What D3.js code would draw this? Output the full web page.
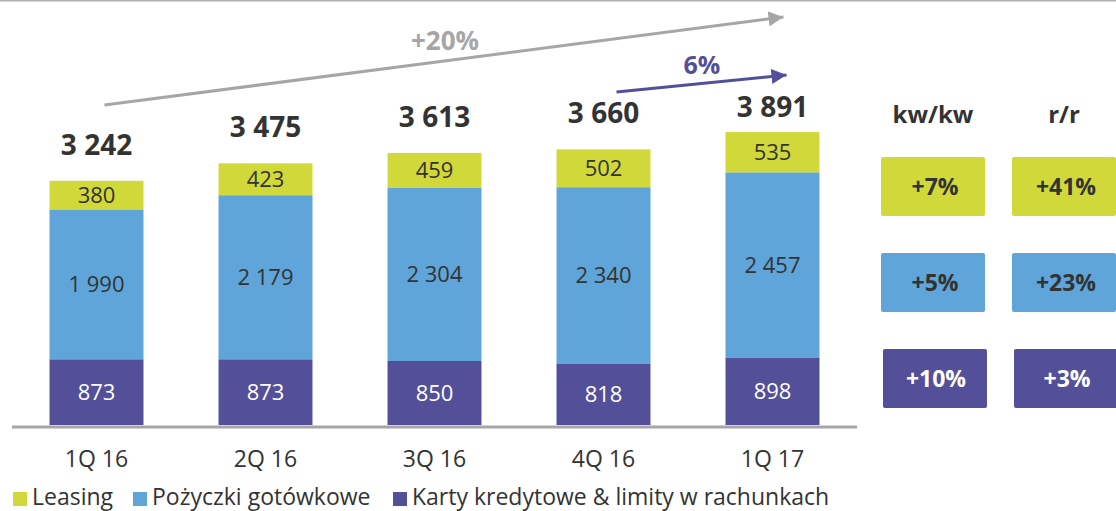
<!DOCTYPE html>
<html>
<head>
<meta charset="utf-8">
<script src="https://cdn.jsdelivr.net/npm/d3@7"></script>
<style>
  body { margin: 0; background: #fff; }
  svg { display: block; font-family: "Open Sans", "Noto Sans", sans-serif; }
</style>
</head>
<body>
<script>
// data
const quarters = ["1Q 16", "2Q 16", "3Q 16", "4Q 16", "1Q 17"];
const karty = [873, 873, 850, 818, 898];
const pozyczki = [1990, 2179, 2304, 2340, 2457];
const leasing = [380, 423, 459, 502, 535];
const totals = [3242, 3475, 3613, 3660, 3891];
const seriesNames = ["Leasing", "Pożyczki gotówkowe", "Karty kredytowe & limity w rachunkach"];
const qoq = ["+7%", "+5%", "+10%"];
const yoy = ["+41%", "+23%", "+3%"];
const growthAll = "+20%";
const growthLast = "6%";

const colors = { leasing: "#d1d93a", pozyczki: "#5fa5d9", karty: "#534f99" };

const W = 1116, H = 511;
const svg = d3.select("body").append("svg")
  .attr("width", W)
  .attr("height", H);

// top rule
svg.append("line")
  .attr("x1", 0).attr("x2", W).attr("y1", 0.5).attr("y2", 0.5)
  .attr("stroke", "#b0b0b0").attr("stroke-width", 2);

//Scales
const x = d3.scaleBand().domain(quarters).range([12, 857]).paddingInner(0.444).paddingOuter(0.222);
const y = d3.scaleLinear().domain([0, 3891]).range([425, 132]);

const rows = quarters.map((q, i) => ({ q, karty: karty[i], pozyczki: pozyczki[i], leasing: leasing[i], total: totals[i] }));
const keys = ["karty", "pozyczki", "leasing"];
const stack = d3.stack().keys(keys)(rows);

const fmt = v => d3.format(",")(v).replace(/,/g, " ");

const layers = svg.selectAll(".layer")
  .data(stack)
  .join("g")
  .attr("class", "layer")
  .attr("fill", d => colors[d.key]);

layers.selectAll("rect")
  .data(d => d)
  .join("rect")
  .attr("x", d => x(d.data.q))
  .attr("width", x.bandwidth())
  .attr("y", d => y(d[1]))
  .attr("height", d => y(d[0]) - y(d[1]));

// segment labels
stack.forEach(layer => {
  svg.append("g").selectAll("text")
    .data(layer)
    .join("text")
    .attr("x", d => x(d.data.q) + x.bandwidth() / 2)
    .attr("y", d => (y(d[0]) + y(d[1])) / 2)
    .attr("dy", "0.36em")
    .attr("text-anchor", "middle")
    .attr("font-size", 22)
    .attr("fill", layer.key === "karty" ? "#fff" : "#333")
    .text(d => fmt(d.data[layer.key]));
});

// totals (kept below the purple arrow)
svg.append("g").selectAll("text")
  .data(rows)
  .join("text")
  .attr("x", d => x(d.q) + x.bandwidth() / 2)
  .attr("y", d => Math.max(y(d.total) - 26, 117))
  .attr("text-anchor", "middle")
  .attr("font-size", 28)
  .attr("font-weight", "bold")
  .attr("fill", "#333")
  .text(d => fmt(d.total));

// axis
const xAxis = svg.append("g")
  .attr("transform", "translate(0,427)")
  .call(d3.axisBottom(x).tickSize(0).tickPadding(24));
xAxis.select(".domain").attr("stroke", "#a6a6a6").attr("stroke-width", 3)
  .attr("d", "M12,0H857");
xAxis.selectAll("text").attr("font-size", 23).attr("fill", "#333")
  .attr("font-family", "\"Open Sans\", \"Noto Sans\", sans-serif");

// arrows
const defs = svg.append("defs");
function marker(id, color) {
  defs.append("marker")
    .attr("id", id)
    .attr("viewBox", "0 0 10 10")
    .attr("refX", 10).attr("refY", 5)
    .attr("markerUnits", "userSpaceOnUse")
    .attr("markerWidth", 15).attr("markerHeight", 15)
    .attr("orient", "auto")
    .append("path").attr("d", "M0,0L10,5L0,10Z").attr("fill", color);
}
marker("ag", "#a6a6a6");
marker("ap", "#534f99");

const c0 = x(quarters[0]) + x.bandwidth() / 2;
const c4 = x(quarters[4]) + x.bandwidth() / 2;
const c3 = x(quarters[3]) + x.bandwidth() / 2;

svg.append("line")
  .attr("x1", c0 + 8).attr("y1", 105).attr("x2", c4 + 11).attr("y2", 17)
  .attr("stroke", "#a6a6a6").attr("stroke-width", 3)
  .attr("marker-end", "url(#ag)");
svg.append("text")
  .attr("x", 445).attr("y", 50)
  .attr("text-anchor", "middle")
  .attr("font-size", 26).attr("font-weight", "bold")
  .attr("fill", "#a6a6a6")
  .text(growthAll);

svg.append("line")
  .attr("x1", c3 + 13).attr("y1", 92).attr("x2", c4 + 14).attr("y2", 75)
  .attr("stroke", "#534f99").attr("stroke-width", 3)
  .attr("marker-end", "url(#ap)");
svg.append("text")
  .attr("x", 702).attr("y", 74)
  .attr("text-anchor", "middle")
  .attr("font-size", 25).attr("font-weight", "bold")
  .attr("fill", "#534f99")
  .text(growthLast);

// right panel
const colX = [881, 1012];
const rowY = [157, 253, 349];
const boxColors = [colors.leasing, colors.pozyczki, colors.karty];
const headers = ["kw/kw", "r/r"];

headers.forEach((h, j) => {
  svg.append("text")
    .attr("x", colX[j] + 52).attr("y", 123)
    .attr("text-anchor", "middle")
    .attr("font-size", 24).attr("font-weight", "bold")
    .attr("fill", "#333")
    .text(h);
});

[qoq, yoy].forEach((vals, j) => {
  const g = svg.append("g");
  g.selectAll("rect")
    .data(vals)
    .join("rect")
    .attr("x", (d, i) => colX[j] + (i === 2 ? 2 : 0))
    .attr("y", (d, i) => rowY[i])
    .attr("width", 104).attr("height", 59)
    .attr("rx", 2)
    .attr("fill", (d, i) => boxColors[i]);
  g.selectAll("text")
    .data(vals)
    .join("text")
    .attr("x", (d, i) => colX[j] + 54 + (i === 2 ? 1 : 0))
    .attr("y", (d, i) => rowY[i] + 30)
    .attr("dy", "0.36em")
    .attr("text-anchor", "middle")
    .attr("font-size", 23).attr("font-weight", "bold")
    .attr("fill", (d, i) => i === 2 ? "#fff" : "#333")
    .text(d => d);
});

// legend
const legendX = [13, 133, 393];
const legendColors = [colors.leasing, colors.pozyczki, colors.karty];
const legend = svg.append("g").selectAll("g")
  .data(seriesNames)
  .join("g")
  .attr("transform", (d, i) => "translate(" + legendX[i] + ",492)");
legend.append("rect")
  .attr("width", 14).attr("height", 14)
  .attr("fill", (d, i) => legendColors[i]);
legend.append("text")
  .attr("x", 19).attr("y", 13)
  .attr("font-size", 23)
  .attr("fill", "#333")
  .text(d => d);
</script>
</body>
</html>
